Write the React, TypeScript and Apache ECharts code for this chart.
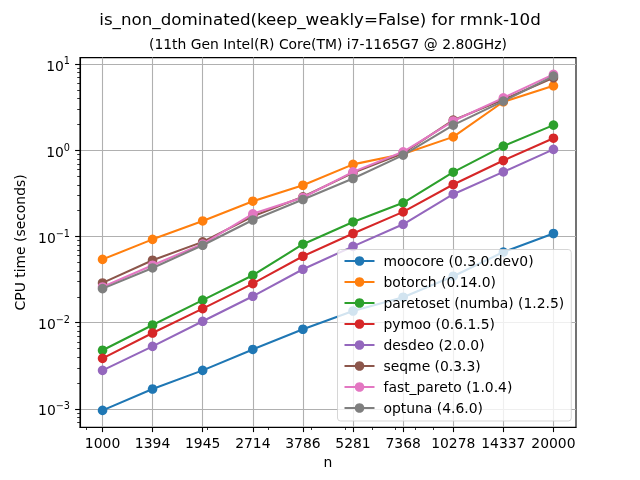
import React, { useEffect, useRef } from "react";
import * as echarts from "echarts";

const nValues = [1000, 1394, 1945, 2714, 3786, 5281, 7368, 10278, 14337, 20000];
const xTickLabels = ["1000", "1394", "1945", "2714", "3786", "5281", "7368", "10278", "14337", "20000"];
const xMinorTicks = [900, 2000, 3000, 4000, 5000, 6000, 7000, 8000, 9000];
const yMajorExponents = [-3, -2, -1, 0, 1];
const yMinorMantissas = [2, 3, 4, 5, 6, 7, 8, 9];

const seriesNames = [
  "moocore (0.3.0.dev0)",
  "botorch (0.14.0)",
  "paretoset (numba) (1.2.5)",
  "pymoo (0.6.1.5)",
  "desdeo (2.0.0)",
  "seqme (0.3.3)",
  "fast_pareto (1.0.4)",
  "optuna (4.6.0)",
];
const colors = ["#1f77b4", "#ff7f0e", "#2ca02c", "#d62728", "#9467bd", "#8c564b", "#e377c2", "#7f7f7f"];

const moocore = [0.00096, 0.0017, 0.0028, 0.0049, 0.0084, 0.0137, 0.0198, 0.0347, 0.0662, 0.1087];
const botorch = [0.0544, 0.093, 0.152, 0.258, 0.395, 0.69, 0.91, 1.44, 3.68, 5.64];
const paretoset = [0.00479, 0.00942, 0.0183, 0.0356, 0.0817, 0.148, 0.247, 0.56, 1.125, 1.97];
const pymoo = [0.00386, 0.0076, 0.0146, 0.0285, 0.0592, 0.1087, 0.194, 0.403, 0.766, 1.39];
const desdeo = [0.0028, 0.00532, 0.0104, 0.0203, 0.0418, 0.077, 0.139, 0.311, 0.565, 1.03];
const seqme = [0.029, 0.0532, 0.0869, 0.172, 0.29, 0.55, 0.93, 2.25, 3.9, 6.99];
const fastPareto = [0.026, 0.0466, 0.082, 0.184, 0.285, 0.565, 0.966, 2.2, 4.09, 7.65];
const optuna = [0.0249, 0.0433, 0.0794, 0.156, 0.27, 0.473, 0.883, 1.97, 3.74, 7.31];

const allSeries = [moocore, botorch, paretoset, pymoo, desdeo, seqme, fastPareto, optuna];

const FONT = "DejaVu Sans";

export default function App() {
  const ref = useRef<HTMLDivElement>(null);

  useEffect(() => {
    if (!ref.current) return;
    const chart = echarts.init(ref.current, undefined, { renderer: "svg" });

    const lx = nValues.map((n) => Math.log10(n));
    const xLo = Math.min(...lx);
    const xHi = Math.max(...lx);
    const xPad = (xHi - xLo) * 0.05;
    const xMin = xLo - xPad;
    const xMax = xHi + xPad;

    const allY = allSeries.flat().map((v) => Math.log10(v));
    const yLo = Math.min(...allY);
    const yHi = Math.max(...allY);
    const yPad = (yHi - yLo) * 0.05;
    const yMin = yLo - yPad;
    const yMax = yHi + yPad;

    const yMinor: number[] = [];
    for (let k = -5; k <= 2; k++) {
      for (const m of yMinorMantissas) {
        const v = Math.log10(m) + k;
        if (v > yMin && v < yMax) yMinor.push(v);
      }
    }
    const xMinor = xMinorTicks.map((v) => Math.log10(v)).filter((v) => v > xMin && v < xMax);

    const xLabelFor = (v: number) => {
      for (let i = 0; i < lx.length; i++) if (Math.abs(lx[i] - v) < 1e-6) return xTickLabels[i];
      return "";
    };

    const tickStyle = { color: "#000", width: 1.1 };
    const minorTickStyle = { color: "#000", width: 0.8 };

    chart.setOption({
      animation: false,
      color: colors,
      grid: {
        left: 80,
        right: 64,
        top: 57.6,
        bottom: 52.8,
        show: true,
        borderColor: "#000",
        borderWidth: 1.1,
        containLabel: false,
      },
      graphic: [
        {
          type: "text",
          x: 320,
          y: 19,
          style: {
            text: "is_non_dominated(keep_weakly=False) for rmnk-10d",
            fontSize: 16.7,
            fontFamily: FONT,
            fill: "#000",
            align: "center",
            verticalAlign: "middle",
          },
        },
        {
          type: "text",
          x: 328,
          y: 44,
          style: {
            text: "(11th Gen Intel(R) Core(TM) i7-1165G7 @ 2.80GHz)",
            fontSize: 13.9,
            fontFamily: FONT,
            fill: "#000",
            align: "center",
            verticalAlign: "middle",
          },
        },
      ],
      legend: {
        orient: "vertical",
        left: 337.5,
        top: 249.5,
        padding: [4.5, 7, 6, 6],
        itemWidth: 30,
        itemHeight: 12,
        itemGap: 7,
        selectedMode: false,
        backgroundColor: "rgba(255,255,255,0.8)",
        borderColor: "rgba(204,204,204,0.8)",
        borderWidth: 1,
        borderRadius: 3,
        textStyle: {
          fontFamily: FONT,
          fontSize: 13.9,
          color: "#000",
          lineHeight: 14,
          padding: [0, 0, 0, 4],
        },
        data: seriesNames,
      },
      xAxis: [
        {
          type: "value",
          min: xMin,
          max: xMax,
          position: "bottom",
          name: "n",
          nameLocation: "middle",
          nameGap: 27,
          nameTextStyle: { fontFamily: FONT, fontSize: 13.9, color: "#000" },
          axisLine: { show: true, onZero: false, lineStyle: tickStyle },
          axisTick: { show: true, customValues: lx, length: 4.9, lineStyle: tickStyle },
          axisLabel: {
            customValues: lx,
            formatter: (v: number) => xLabelFor(v),
            margin: 9,
            fontFamily: FONT,
            fontSize: 13.9,
            color: "#000",
          },
          splitLine: { show: true, lineStyle: { color: "#b0b0b0", width: 1.1 } },
        },
        {
          type: "value",
          min: xMin,
          max: xMax,
          position: "bottom",
          axisLine: { show: false, onZero: false },
          axisTick: { show: true, customValues: xMinor, length: 2.8, lineStyle: minorTickStyle },
          axisLabel: { show: false },
          splitLine: { show: false },
        },
      ],
      yAxis: [
        {
          type: "value",
          min: yMin,
          max: yMax,
          position: "left",
          name: "CPU time (seconds)",
          nameLocation: "middle",
          nameGap: 49,
          nameTextStyle: { fontFamily: FONT, fontSize: 13.9, color: "#000" },
          axisLine: { show: true, onZero: false, lineStyle: tickStyle },
          axisTick: { show: true, customValues: yMajorExponents, length: 4.9, lineStyle: tickStyle },
          axisLabel: {
            customValues: yMajorExponents,
            margin: 10,
            formatter: (v: number) => {
              const e = Math.round(v);
              const s = e < 0 ? "\u2212" + -e : String(e);
              return "{b|10}{s|" + s + "}";
            },
            rich: {
              b: { fontFamily: FONT, fontSize: 13.9, color: "#000", padding: [3, 0, 0, 0], verticalAlign: "bottom" },
              s: { fontFamily: FONT, fontSize: 9.7, color: "#000", verticalAlign: "top" },
            },
          },
          splitLine: { show: true, lineStyle: { color: "#b0b0b0", width: 1.1 } },
        },
        {
          type: "value",
          min: yMin,
          max: yMax,
          position: "left",
          axisLine: { show: false, onZero: false },
          axisTick: { show: true, customValues: yMinor, length: 2.8, lineStyle: minorTickStyle },
          axisLabel: { show: false },
          splitLine: { show: false },
        },
      ],
      series: allSeries.map((vals, si) => ({
        name: seriesNames[si],
        type: "line",
        xAxisIndex: 0,
        yAxisIndex: 0,
        data: vals.map((v, i) => [Math.log10(nValues[i]), Math.log10(v)]),
        symbol: "circle",
        symbolSize: 9.6,
        showSymbol: true,
        lineStyle: { width: 2.08, color: colors[si] },
        itemStyle: { color: colors[si] },
        z: 2 + si * 0.01,
      })),
    });

    return () => chart.dispose();
  }, []);

  return <div ref={ref} style={{ position: "fixed", left: 0, top: 0, width: 640, height: 480 }} />;
}
